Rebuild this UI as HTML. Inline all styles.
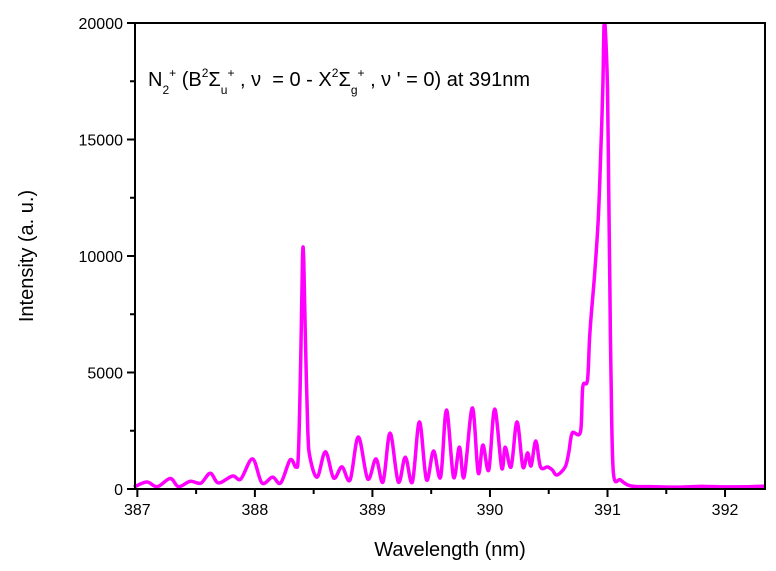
<!DOCTYPE html>
<html><head><meta charset="utf-8">
<style>
body{margin:0;background:#fff;width:776px;height:571px;overflow:hidden;font-family:"Liberation Sans",Arial,sans-serif;}
#title{position:absolute;left:148px;top:66px;font-size:20px;white-space:nowrap;color:#000;}
#title sup{font-size:12px;vertical-align:9px;}
#title sub{font-size:12px;vertical-align:-8px;}
</style></head><body>
<svg id="chart" width="776" height="571" style="position:absolute;left:0;top:0">
<g id="plot"></g>
<g id="axes"></g>
</svg>
<div id="title">N<sub>2</sub><sup>+</sup> (B<sup>2</sup>&Sigma;<sub>u</sub><sup>+</sup> , &nu; &nbsp;= 0 - X<sup>2</sup>&Sigma;<sub>g</sub><sup>+</sup> , &nu; ' = 0) at 391nm</div>
<script>
const wavelengths=[386.97,387.08,387.17,387.28,387.35,387.45,387.54,387.62,387.69,387.81,387.88,387.98,388.06,388.15,388.22,388.30,388.35,388.37,388.39,388.405,388.415,388.43,388.45,388.47,388.53,388.60,388.67,388.74,388.81,388.88,388.96,389.03,389.09,389.15,389.22,389.28,389.34,389.40,389.46,389.52,389.58,389.63,389.69,389.74,389.78,389.85,389.90,389.94,389.99,390.04,390.10,390.13,390.18,390.23,390.28,390.32,390.35,390.39,390.43,390.49,390.53,390.57,390.64,390.67,390.70,390.77,390.79,390.83,390.85,390.89,390.92,390.94,390.96,390.97,390.98,391.00,391.01,391.02,391.03,391.05,391.11,391.20,391.4,391.6,391.8,392.0,392.2,392.34];
const intensities=[80,300,100,450,100,330,250,680,260,560,430,1290,260,510,260,1250,940,1500,5500,9900,9900,6500,2500,1330,510,1600,470,950,390,2230,430,1290,300,2400,300,1370,300,2880,390,1630,510,3390,510,1800,510,3480,690,1890,820,3430,900,1800,950,2880,950,1550,990,2060,950,950,820,600,950,1550,2400,2450,4380,4680,6700,9200,11450,14000,17200,19900,19900,17200,12900,8600,4900,690,390,130,100,80,110,90,100,120];
const xTicks=[387,388,389,390,391,392];
const yTicks=[0,5000,10000,15000,20000];
const X0=135,X1=765,Y0=489,Y1=23,XMIN=386.98,XMAX=392.34,YMAX=20000;
const xs=v=>X0+(v-XMIN)/(XMAX-XMIN)*(X1-X0);
const ys=v=>Y0-(v/YMAX)*(Y0-Y1);
const NS="http://www.w3.org/2000/svg";
const plot=document.getElementById('plot'),axes=document.getElementById('axes');
function mk(tag,attrs,parent){const e=document.createElementNS(NS,tag);for(const k in attrs)e.setAttribute(k,attrs[k]);parent.appendChild(e);return e;}
const P=wavelengths.map((w,i)=>[xs(w),ys(intensities[i])]);
let d='M'+P[0][0].toFixed(1)+','+P[0][1].toFixed(1);
for(let i=0;i<P.length-1;i++){const p0=P[Math.max(0,i-1)],p1=P[i],p2=P[i+1],p3=P[Math.min(P.length-1,i+2)];
const t=0.5/3;
let c1x=p1[0]+(p2[0]-p0[0])*t,c1y=p1[1]+(p2[1]-p0[1])*t,c2x=p2[0]-(p3[0]-p1[0])*t,c2y=p2[1]-(p3[1]-p1[1])*t;
c1y=Math.min(Y0,Math.max(Y1,c1y));c2y=Math.min(Y0,Math.max(Y1,c2y));
d+=' C'+c1x.toFixed(1)+','+c1y.toFixed(1)+' '+c2x.toFixed(1)+','+c2y.toFixed(1)+' '+p2[0].toFixed(1)+','+p2[1].toFixed(1);}
const line=mk('path',{d:d,fill:'none',stroke:'#ff00ff','stroke-width':3.5,'stroke-linejoin':'round'},plot);


const frame=mk('rect',{x:X0,y:Y1,width:X1-X0,height:Y0-Y1,fill:'none',stroke:'#000','stroke-width':2},axes);


for(let v=387;v<=392.01;v+=0.5){const maj=Math.abs(v-Math.round(v))<0.01;mk('line',{x1:xs(v),x2:xs(v),y1:Y0,y2:Y0+(maj?8:5),stroke:'#000','stroke-width':2},axes);}
xTicks.forEach(v=>{const t=mk('text',{x:xs(v),y:Y0+26,'text-anchor':'middle','font-size':16},axes);t.textContent=v;

});
for(let v=0;v<=20000;v+=2500){const maj=v%5000===0;mk('line',{x1:X0,x2:X0-(maj?8:5),y1:ys(v),y2:ys(v),stroke:'#000','stroke-width':2},axes);}
yTicks.forEach(v=>{const t=mk('text',{x:X0-12,y:ys(v)+6,'text-anchor':'end','font-size':16},axes);t.textContent=v;

});
const xt=mk('text',{x:450,y:556,'text-anchor':'middle','font-size':20},axes);xt.textContent='Wavelength (nm)';


const yt=mk('text',{x:0,y:0,'text-anchor':'middle','font-size':20,transform:'translate(33,256) rotate(-90)'},axes);yt.textContent='Intensity (a. u.)';


</script>
</body></html>
